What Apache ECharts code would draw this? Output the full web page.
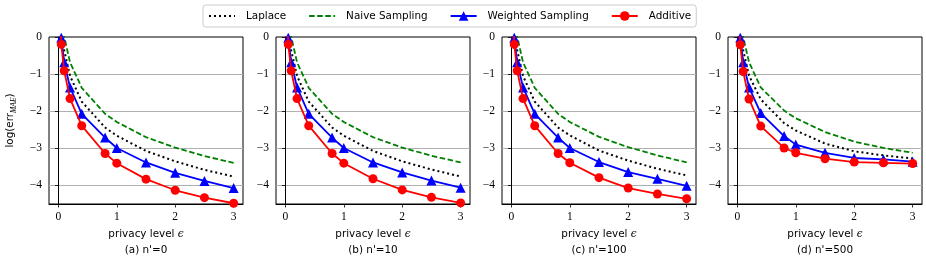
<!DOCTYPE html>
<html><head><meta charset="utf-8">
<script src="https://cdn.jsdelivr.net/npm/echarts@6/dist/echarts.min.js"></script>
<style>html,body{margin:0;padding:0;background:#fff}#c{width:926px;height:260px}</style>
</head><body><div id="c"></div>
<script>
// ---- data ----
const epsilon = [0.01, 0.05, 0.1, 0.2, 0.4, 0.8, 1, 1.5, 2, 2.5, 3];
const xTicks = [0, 1, 2, 3];
const yTicks = [-4, -3, -2, -1, 0];
const gridTicks = [-4, -3, -2, -1];
const seriesNames = ['Laplace', 'Naive Sampling', 'Weighted Sampling', 'Additive'];
const captions = ["(a) n'=0", "(b) n'=10", "(c) n'=100", "(d) n'=500"];

// (a) n'=0
const laplaceA  = [1.95, 0.34, -0.36, -1.05, -1.74, -2.44, -2.66, -3.07, -3.35, -3.58, -3.76];
const naiveA    = [2.30, 0.70, 0.01, -0.68, -1.37, -2.07, -2.29, -2.70, -2.98, -3.21, -3.39];
const weightedA = [1.70, -0.02, -0.68, -1.36, -2.07, -2.71, -2.99, -3.38, -3.66, -3.88, -4.07];
const additiveA = [1.50, -0.20, -0.91, -1.66, -2.39, -3.14, -3.40, -3.83, -4.13, -4.33, -4.48];
// (b) n'=10
const laplaceB  = [1.95, 0.34, -0.36, -1.05, -1.74, -2.44, -2.66, -3.07, -3.35, -3.57, -3.76];
const naiveB    = [2.30, 0.70, 0.01, -0.68, -1.37, -2.07, -2.29, -2.70, -2.98, -3.20, -3.38];
const weightedB = [1.70, -0.02, -0.68, -1.36, -2.07, -2.71, -2.99, -3.38, -3.65, -3.87, -4.06];
const additiveB = [1.50, -0.20, -0.91, -1.66, -2.39, -3.14, -3.40, -3.82, -4.12, -4.32, -4.47];
// (c) n'=100
const laplaceC  = [1.95, 0.34, -0.36, -1.05, -1.74, -2.44, -2.65, -3.06, -3.33, -3.55, -3.73];
const naiveC    = [2.30, 0.70, 0.01, -0.68, -1.37, -2.07, -2.29, -2.69, -2.97, -3.19, -3.38];
const weightedC = [1.70, -0.02, -0.68, -1.36, -2.07, -2.71, -2.99, -3.37, -3.64, -3.82, -4.01];
const additiveC = [1.50, -0.20, -0.91, -1.66, -2.39, -3.14, -3.39, -3.79, -4.07, -4.23, -4.36];
// (d) n'=500
const laplaceD  = [1.95, 0.34, -0.36, -1.04, -1.68, -2.32, -2.52, -2.87, -3.08, -3.19, -3.27];
const naiveD    = [2.30, 0.70, 0.00, -0.68, -1.36, -1.98, -2.19, -2.56, -2.82, -2.99, -3.12];
const weightedD = [1.70, -0.02, -0.68, -1.36, -2.05, -2.67, -2.90, -3.12, -3.26, -3.30, -3.36];
const additiveD = [1.50, -0.21, -0.93, -1.67, -2.40, -2.99, -3.12, -3.28, -3.37, -3.39, -3.41];

const panelSeries = [
  [laplaceA, naiveA, weightedA, additiveA],
  [laplaceB, naiveB, weightedB, additiveB],
  [laplaceC, naiveC, weightedC, additiveC],
  [laplaceD, naiveD, weightedD, additiveD]
];

// ---- layout & style ----
const gridLefts = [49, 276, 502, 728];
const gridTop = 37, gridW = 194, gridH = 167;
const SANS = 'DejaVu Sans';
const SERIF = 'Liberation Serif';

const styles = [
  {color: '#000000', lineStyle: {color: '#000', width: 2, type: [2, 3], cap: 'butt'}, symbol: 'none', hideIcon: true},
  {color: '#008000', lineStyle: {color: '#008000', width: 1.8, type: [5.5, 2.6], cap: 'butt'}, symbol: 'none', hideIcon: true},
  {color: '#0000ff', lineStyle: {color: '#0000ff', width: 1.8}, symbol: 'triangle', symbolSize: 10},
  {color: '#ff0000', lineStyle: {color: '#ff0000', width: 1.8}, symbol: 'circle', symbolSize: 9}
];

const grids = [], xAxes = [], yAxes = [], series = [], graphics = [];
const minus = v => String(v).replace('-', '\u2212');

for (let i = 0; i < 4; i++) {
  grids.push({left: gridLefts[i], top: gridTop, width: gridW, height: gridH,
    show: true, borderColor: '#000', borderWidth: 1, backgroundColor: 'transparent'});
  xAxes.push({
    type: 'value', gridIndex: i, min: -0.16, max: 3.16,
    axisLine: {show: true, onZero: false, lineStyle: {color: '#000', width: 1}},
    axisTick: {show: true, customValues: xTicks, length: 3.5, lineStyle: {color: '#000', width: 0.8}},
    axisLabel: {customValues: xTicks, margin: 7, color: '#000', fontFamily: SERIF, fontSize: 11.5, formatter: minus},
    splitLine: {show: false},
    name: 'privacy level {e|\u03F5}', nameLocation: 'middle', nameGap: 25,
    nameTextStyle: {color: '#000', fontFamily: SANS, fontSize: 10.4,
      rich: {e: {fontFamily: 'DejaVu Serif', fontStyle: 'italic', fontSize: 10.4, color: '#000'}}}
  });
  const yMain = {
    type: 'value', gridIndex: i, min: -4.5, max: 0, position: 'left',
    axisLine: {show: true, lineStyle: {color: '#000', width: 1}},
    axisTick: {show: true, customValues: yTicks, length: 3.5, lineStyle: {color: '#000', width: 0.8}},
    axisLabel: {customValues: yTicks, margin: 7, color: '#000', fontFamily: SERIF, fontSize: 11.5, formatter: minus},
    splitLine: {show: false}
  };
  if (i === 0) {
    yMain.name = 'log(err{s|MAE})';
    yMain.nameLocation = 'middle';
    yMain.nameRotate = 90;
    yMain.nameGap = 31;
    yMain.nameTextStyle = {color: '#000', fontFamily: SANS, fontSize: 10.4, lineHeight: 16,
      rich: {s: {fontFamily: SERIF, fontStyle: 'italic', fontSize: 7.5, color: '#000', verticalAlign: 'bottom', lineHeight: 16}}};
  }
  yAxes.push(yMain);
  yAxes.push({
    type: 'value', gridIndex: i, min: -4.5, max: 0, position: 'right',
    axisLine: {show: false},
    axisTick: {show: false, customValues: gridTicks},
    axisLabel: {show: false, customValues: gridTicks},
    splitLine: {show: true, lineStyle: {color: '#b0b0b0', width: 1}}
  });
  panelSeries[i].forEach((vals, k) => {
    const st = styles[k];
    series.push({
      name: seriesNames[k], type: 'line', xAxisIndex: i, yAxisIndex: 2 * i,
      data: epsilon.map((e, j) => [e, vals[j]]),
      clip: true, showSymbol: st.symbol !== 'none', z: 2 + k,
      symbol: st.symbol, symbolSize: st.symbolSize || 0,
      lineStyle: st.lineStyle,
      itemStyle: {color: st.color, opacity: st.hideIcon ? 0 : 1},
      emphasis: {disabled: true}
    });
  });
  graphics.push({type: 'text', x: gridLefts[i] + gridW / 2, y: 250,
    style: {text: captions[i], align: 'center', verticalAlign: 'middle',
      font: '10.4px "DejaVu Sans"', fill: '#000'}});
}

const chart = echarts.init(document.getElementById('c'), null, {renderer: 'canvas'});
chart.setOption({
  animation: false,
  backgroundColor: '#fff',
  legend: {
    data: seriesNames, top: 5, left: 203, orient: 'horizontal',
    itemWidth: 26, itemHeight: 12, itemGap: 22, padding: [6, 5, 6, 5],
    borderColor: '#cccccc', borderWidth: 1, borderRadius: 3,
    backgroundColor: 'rgba(255,255,255,0.8)', selectedMode: false,
    textStyle: {fontFamily: SANS, fontSize: 10.4, color: '#000', padding: [0, 0, 0, 6]}
  },
  grid: grids, xAxis: xAxes, yAxis: yAxes, series: series, graphic: graphics
});
</script></body></html>
